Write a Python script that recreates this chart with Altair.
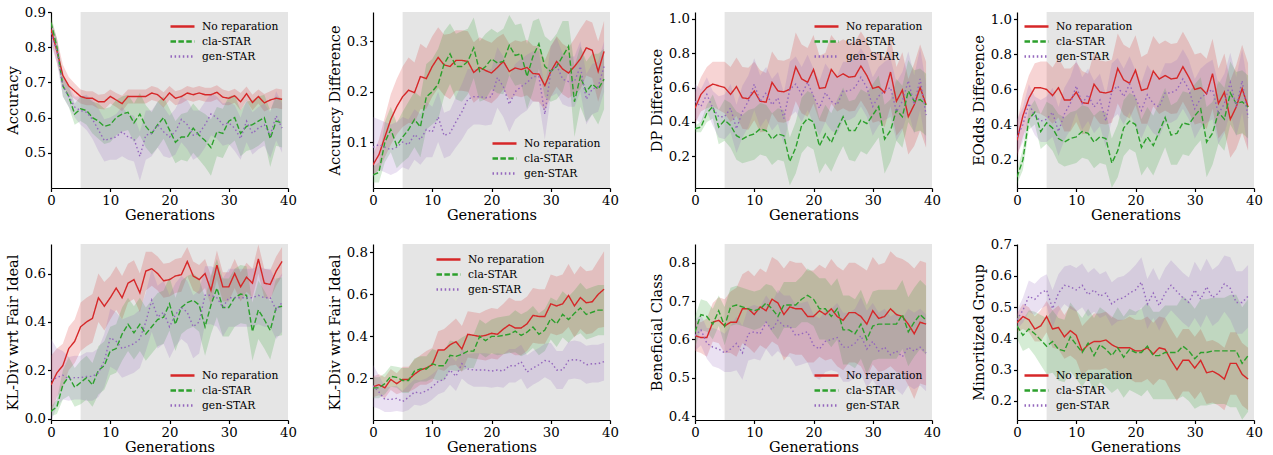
import altair as alt
import pandas as pd

GENS = list(range(40))
METHODS = ["No reparation", "cla-STAR", "gen-STAR"]
COLORS = ["#d62728", "#2ca02c", "#9467bd"]
DASHES = [[1, 0], [5.5, 2.4], [1.5, 2.6]]
X_TICKS = [0, 10, 20, 30, 40]
SHADE = [5, 40]

# ---------------- Accuracy ----------------
acc_red = [0.85,0.79,0.72,0.69,0.675,0.66,0.655,0.655,0.645,0.645,0.66,0.65,0.64,0.66,0.66,0.66,0.66,0.67,0.665,0.65,
           0.67,0.655,0.66,0.67,0.665,0.67,0.665,0.665,0.672,0.658,0.655,0.662,0.645,0.668,0.643,0.66,0.642,0.65,0.655,0.652]
acc_green = [0.87,0.80,0.69,0.66,0.61,0.625,0.62,0.60,0.59,0.575,0.58,0.60,0.61,0.615,0.585,0.61,0.575,0.555,0.58,0.60,
             0.565,0.53,0.545,0.545,0.57,0.55,0.535,0.515,0.56,0.555,0.59,0.60,0.555,0.575,0.58,0.59,0.60,0.54,0.59,0.585]
acc_purple = [0.84,0.79,0.69,0.66,0.63,0.62,0.615,0.595,0.565,0.535,0.54,0.545,0.56,0.545,0.54,0.49,0.55,0.555,0.58,0.56,
              0.545,0.56,0.595,0.58,0.55,0.555,0.58,0.61,0.60,0.58,0.585,0.57,0.54,0.59,0.555,0.57,0.58,0.55,0.605,0.57]
acc_red_w = [0.03,0.035,0.03,0.025,0.022,0.02,0.02,0.02,0.02,0.022,0.02,0.02,0.022,0.02,0.02,0.02,0.02,0.02,0.02,0.022,
             0.02,0.02,0.02,0.02,0.02,0.02,0.02,0.02,0.02,0.022,0.02,0.02,0.025,0.02,0.022,0.02,0.025,0.025,0.028,0.028]
acc_green_w = [0.02,0.025,0.03,0.03,0.03,0.035,0.04,0.045,0.05,0.05,0.05,0.05,0.05,0.05,0.055,0.06,0.06,0.06,0.065,0.06,
               0.06,0.06,0.065,0.07,0.07,0.07,0.075,0.08,0.07,0.07,0.07,0.065,0.065,0.07,0.07,0.07,0.065,0.08,0.07,0.07]
acc_purple_w = [0.03,0.035,0.03,0.03,0.03,0.04,0.05,0.055,0.06,0.06,0.06,0.065,0.07,0.065,0.065,0.07,0.07,0.065,0.065,0.07,
                0.06,0.065,0.065,0.07,0.07,0.065,0.065,0.06,0.06,0.06,0.06,0.065,0.06,0.06,0.06,0.06,0.06,0.065,0.07,0.07]

# ---------------- Accuracy Difference ----------------
ad_red = [0.055,0.075,0.11,0.145,0.17,0.19,0.203,0.198,0.23,0.226,0.25,0.268,0.253,0.25,0.262,0.262,0.26,0.238,0.248,0.242,
          0.237,0.248,0.26,0.24,0.247,0.244,0.248,0.236,0.235,0.212,0.24,0.26,0.245,0.237,0.25,0.265,0.287,0.282,0.24,0.28]
ad_green = [0.035,0.04,0.10,0.125,0.093,0.11,0.125,0.145,0.13,0.19,0.20,0.215,0.255,0.275,0.25,0.25,0.26,0.287,0.24,0.25,
            0.265,0.257,0.26,0.292,0.272,0.275,0.23,0.27,0.295,0.25,0.24,0.25,0.27,0.29,0.18,0.23,0.20,0.215,0.205,0.225]
ad_purple = [0.09,0.095,0.09,0.085,0.09,0.10,0.095,0.115,0.105,0.125,0.12,0.15,0.113,0.118,0.14,0.16,0.185,0.19,0.19,0.188,
             0.19,0.228,0.21,0.175,0.20,0.21,0.218,0.23,0.23,0.155,0.24,0.252,0.225,0.22,0.22,0.25,0.185,0.205,0.21,0.25]
ad_red_w = [0.02,0.03,0.04,0.05,0.055,0.06,0.065,0.06,0.065,0.06,0.06,0.06,0.06,0.065,0.06,0.06,0.06,0.06,0.06,0.06,
            0.06,0.06,0.055,0.055,0.055,0.055,0.055,0.055,0.055,0.05,0.05,0.05,0.05,0.05,0.055,0.06,0.055,0.055,0.06,0.06]
ad_green_w = [0.015,0.02,0.04,0.045,0.045,0.05,0.055,0.055,0.06,0.065,0.065,0.07,0.065,0.06,0.065,0.07,0.065,0.06,0.06,0.065,
              0.06,0.06,0.065,0.06,0.06,0.06,0.065,0.07,0.05,0.06,0.06,0.065,0.07,0.05,0.07,0.06,0.06,0.06,0.07,0.06]
ad_purple_w = [0.06,0.05,0.05,0.05,0.05,0.05,0.05,0.05,0.05,0.055,0.05,0.05,0.045,0.045,0.05,0.055,0.06,0.055,0.055,0.055,
               0.055,0.06,0.06,0.055,0.055,0.055,0.055,0.05,0.05,0.05,0.05,0.055,0.05,0.05,0.05,0.05,0.05,0.05,0.05,0.05]

# ---------------- DP Difference ----------------
dp_red = [0.48,0.56,0.60,0.62,0.61,0.60,0.56,0.605,0.54,0.535,0.58,0.52,0.515,0.63,0.58,0.575,0.59,0.72,0.65,0.63,
          0.705,0.595,0.60,0.705,0.66,0.68,0.66,0.665,0.725,0.67,0.595,0.605,0.57,0.69,0.52,0.585,0.43,0.50,0.60,0.50]
dp_green = [0.36,0.37,0.45,0.49,0.37,0.41,0.38,0.32,0.30,0.32,0.33,0.36,0.35,0.30,0.33,0.32,0.17,0.25,0.38,0.42,
            0.40,0.26,0.33,0.28,0.36,0.43,0.35,0.35,0.41,0.39,0.44,0.49,0.30,0.35,0.47,0.43,0.58,0.52,0.53,0.50]
dp_purple = [0.52,0.49,0.56,0.48,0.43,0.43,0.48,0.36,0.46,0.52,0.62,0.52,0.57,0.50,0.54,0.42,0.59,0.62,0.56,0.63,
             0.55,0.48,0.57,0.52,0.50,0.58,0.58,0.60,0.66,0.60,0.49,0.55,0.58,0.60,0.46,0.52,0.64,0.50,0.65,0.44]
dp_red_w = [0.09,0.10,0.12,0.13,0.14,0.15,0.16,0.17,0.18,0.18,0.17,0.18,0.17,0.18,0.18,0.18,0.18,0.20,0.20,0.20,
            0.20,0.19,0.20,0.20,0.20,0.20,0.20,0.20,0.20,0.20,0.20,0.20,0.20,0.20,0.20,0.22,0.22,0.24,0.25,0.25]
dp_green_w = [0.02,0.03,0.05,0.07,0.10,0.12,0.13,0.14,0.14,0.15,0.15,0.15,0.15,0.15,0.15,0.15,0.14,0.15,0.16,0.16,
              0.16,0.16,0.17,0.17,0.17,0.17,0.17,0.18,0.18,0.18,0.18,0.18,0.20,0.18,0.18,0.18,0.18,0.18,0.18,0.18]
dp_purple_w = [0.10,0.10,0.10,0.10,0.12,0.13,0.14,0.14,0.15,0.15,0.15,0.15,0.15,0.15,0.15,0.15,0.16,0.16,0.16,0.16,
               0.16,0.16,0.17,0.17,0.17,0.17,0.17,0.17,0.17,0.17,0.17,0.17,0.17,0.17,0.17,0.17,0.17,0.17,0.18,0.18]

# ---------------- EOdds Difference ----------------
eo_red = [0.31,0.45,0.55,0.61,0.61,0.60,0.565,0.61,0.54,0.54,0.585,0.525,0.52,0.63,0.585,0.58,0.59,0.72,0.655,0.635,
          0.71,0.595,0.605,0.705,0.66,0.68,0.66,0.665,0.73,0.67,0.60,0.61,0.575,0.69,0.52,0.585,0.43,0.50,0.605,0.50]
eo_green = [0.10,0.20,0.43,0.47,0.36,0.41,0.38,0.32,0.30,0.32,0.33,0.36,0.35,0.30,0.33,0.32,0.18,0.25,0.38,0.42,
            0.40,0.27,0.33,0.28,0.36,0.44,0.34,0.35,0.41,0.40,0.45,0.49,0.30,0.35,0.47,0.43,0.58,0.52,0.53,0.50]
eo_purple = [0.33,0.40,0.52,0.45,0.42,0.43,0.47,0.36,0.46,0.52,0.62,0.52,0.57,0.50,0.54,0.42,0.59,0.62,0.56,0.63,
             0.55,0.48,0.57,0.52,0.50,0.58,0.58,0.60,0.66,0.60,0.49,0.55,0.58,0.60,0.46,0.52,0.64,0.50,0.65,0.44]
eo_red_w = [0.10,0.12,0.13,0.14,0.15,0.16,0.16,0.17,0.18,0.18,0.17,0.18,0.17,0.18,0.18,0.18,0.18,0.20,0.20,0.20,
            0.20,0.19,0.20,0.20,0.20,0.20,0.20,0.20,0.20,0.20,0.20,0.20,0.20,0.20,0.20,0.22,0.22,0.24,0.25,0.25]
eo_green_w = [0.04,0.06,0.06,0.07,0.10,0.12,0.13,0.14,0.14,0.15,0.15,0.15,0.15,0.15,0.15,0.15,0.14,0.15,0.16,0.16,
              0.16,0.16,0.17,0.17,0.17,0.17,0.17,0.18,0.18,0.18,0.18,0.18,0.20,0.18,0.18,0.18,0.18,0.18,0.18,0.18]
eo_purple_w = [0.10,0.10,0.11,0.11,0.12,0.13,0.14,0.14,0.15,0.15,0.15,0.15,0.15,0.15,0.15,0.15,0.16,0.16,0.16,0.16,
               0.16,0.16,0.17,0.17,0.17,0.17,0.17,0.17,0.17,0.17,0.17,0.17,0.17,0.17,0.17,0.17,0.17,0.17,0.18,0.18]

# ---------------- KL-Div (1) ----------------
kl1_red = [0.14,0.19,0.22,0.29,0.32,0.38,0.40,0.415,0.50,0.465,0.50,0.54,0.50,0.56,0.575,0.52,0.61,0.62,0.60,0.57,
           0.575,0.59,0.595,0.65,0.59,0.575,0.60,0.53,0.635,0.545,0.545,0.60,0.545,0.585,0.56,0.66,0.56,0.555,0.61,0.65]
kl1_green = [0.03,0.05,0.14,0.175,0.13,0.15,0.17,0.14,0.20,0.22,0.28,0.29,0.35,0.39,0.355,0.39,0.35,0.38,0.41,0.42,
             0.475,0.39,0.46,0.48,0.49,0.47,0.38,0.47,0.54,0.46,0.46,0.50,0.515,0.51,0.36,0.45,0.41,0.365,0.46,0.465]
kl1_purple = [0.16,0.17,0.18,0.165,0.17,0.17,0.175,0.175,0.19,0.24,0.335,0.32,0.29,0.30,0.31,0.33,0.40,0.49,0.42,0.44,
              0.38,0.43,0.46,0.44,0.38,0.40,0.51,0.51,0.50,0.46,0.50,0.50,0.50,0.50,0.50,0.51,0.50,0.50,0.45,0.48]
kl1_red_w = [0.12,0.10,0.09,0.09,0.09,0.10,0.10,0.10,0.10,0.10,0.09,0.09,0.09,0.08,0.08,0.08,0.08,0.07,0.07,0.07,
             0.07,0.07,0.07,0.06,0.06,0.06,0.06,0.06,0.06,0.06,0.06,0.06,0.06,0.06,0.06,0.06,0.06,0.06,0.06,0.06]
kl1_green_w = [0.02,0.03,0.06,0.08,0.08,0.09,0.09,0.09,0.10,0.10,0.10,0.10,0.11,0.11,0.11,0.11,0.11,0.11,0.11,0.11,
               0.11,0.11,0.11,0.11,0.11,0.11,0.12,0.12,0.12,0.12,0.12,0.12,0.12,0.12,0.12,0.12,0.12,0.12,0.12,0.12]
kl1_purple_w = [0.17,0.12,0.10,0.09,0.09,0.09,0.10,0.10,0.10,0.11,0.12,0.12,0.12,0.12,0.12,0.12,0.12,0.13,0.13,0.13,
                0.13,0.13,0.13,0.13,0.13,0.13,0.12,0.12,0.12,0.12,0.12,0.12,0.12,0.12,0.12,0.12,0.12,0.12,0.12,0.12]

# ---------------- KL-Div (2) ----------------
kl2_red = [0.16,0.17,0.155,0.195,0.175,0.195,0.195,0.22,0.24,0.25,0.265,0.335,0.335,0.36,0.375,0.34,0.41,0.405,0.40,0.405,
           0.415,0.41,0.435,0.455,0.44,0.44,0.46,0.50,0.495,0.495,0.555,0.545,0.555,0.595,0.545,0.585,0.56,0.565,0.60,0.625]
kl2_green = [0.155,0.155,0.175,0.21,0.205,0.19,0.19,0.235,0.245,0.245,0.27,0.26,0.26,0.31,0.305,0.315,0.33,0.33,0.40,0.38,
             0.40,0.40,0.405,0.41,0.425,0.405,0.42,0.445,0.41,0.43,0.485,0.46,0.505,0.48,0.51,0.535,0.505,0.515,0.525,0.525]
kl2_purple = [0.165,0.135,0.10,0.10,0.105,0.09,0.11,0.135,0.13,0.14,0.16,0.185,0.195,0.24,0.21,0.27,0.245,0.24,0.24,0.24,
              0.235,0.24,0.235,0.26,0.26,0.28,0.23,0.25,0.265,0.285,0.28,0.24,0.24,0.285,0.29,0.285,0.265,0.27,0.27,0.28]
kl2_red_w = [0.05,0.05,0.05,0.05,0.05,0.06,0.06,0.07,0.07,0.08,0.08,0.09,0.10,0.10,0.11,0.11,0.11,0.11,0.11,0.12,
             0.12,0.12,0.12,0.13,0.13,0.13,0.13,0.13,0.13,0.13,0.14,0.14,0.14,0.15,0.15,0.15,0.15,0.15,0.16,0.18]
kl2_green_w = [0.05,0.05,0.05,0.05,0.05,0.06,0.06,0.06,0.06,0.06,0.07,0.07,0.07,0.07,0.07,0.08,0.08,0.08,0.08,0.08,
               0.08,0.09,0.09,0.09,0.10,0.10,0.10,0.10,0.10,0.10,0.10,0.11,0.11,0.11,0.11,0.12,0.12,0.12,0.12,0.12]
kl2_purple_w = [0.10,0.08,0.06,0.06,0.06,0.05,0.06,0.06,0.06,0.06,0.06,0.06,0.06,0.07,0.07,0.07,0.07,0.08,0.08,0.08,
                0.08,0.08,0.08,0.08,0.08,0.08,0.08,0.08,0.08,0.08,0.09,0.09,0.09,0.09,0.09,0.09,0.09,0.09,0.09,0.09]

# ---------------- Beneficial Class ----------------
bc_red = [0.61,0.605,0.605,0.645,0.65,0.635,0.645,0.645,0.68,0.68,0.665,0.685,0.675,0.705,0.695,0.665,0.685,0.68,0.68,0.66,
          0.66,0.675,0.665,0.68,0.66,0.65,0.67,0.67,0.66,0.64,0.675,0.655,0.66,0.68,0.665,0.66,0.64,0.615,0.645,0.64]
bc_green = [0.62,0.665,0.66,0.64,0.675,0.635,0.685,0.69,0.685,0.68,0.675,0.68,0.695,0.68,0.66,0.69,0.69,0.69,0.705,0.715,
            0.705,0.68,0.68,0.66,0.68,0.625,0.625,0.615,0.64,0.60,0.635,0.64,0.64,0.64,0.64,0.665,0.62,0.645,0.665,0.65]
bc_purple = [0.61,0.625,0.59,0.58,0.575,0.565,0.575,0.59,0.565,0.615,0.62,0.615,0.645,0.625,0.65,0.635,0.635,0.61,0.615,0.62,
             0.585,0.575,0.595,0.60,0.605,0.58,0.58,0.59,0.61,0.575,0.595,0.57,0.58,0.56,0.57,0.555,0.58,0.57,0.58,0.565]
bc_red_w = [0.04,0.04,0.05,0.05,0.06,0.07,0.08,0.09,0.09,0.10,0.10,0.10,0.10,0.11,0.11,0.12,0.12,0.12,0.12,0.12,
            0.12,0.12,0.12,0.13,0.13,0.13,0.13,0.13,0.13,0.14,0.14,0.14,0.14,0.15,0.15,0.15,0.16,0.17,0.16,0.16]
bc_green_w = [0.04,0.04,0.04,0.04,0.04,0.05,0.05,0.05,0.05,0.05,0.05,0.05,0.05,0.06,0.06,0.06,0.06,0.06,0.06,0.07,
              0.07,0.08,0.08,0.08,0.08,0.09,0.09,0.09,0.09,0.09,0.09,0.09,0.09,0.09,0.09,0.09,0.09,0.09,0.09,0.09]
bc_purple_w = [0.04,0.04,0.04,0.05,0.05,0.05,0.06,0.07,0.07,0.07,0.07,0.07,0.07,0.07,0.08,0.08,0.08,0.08,0.08,0.08,
               0.08,0.08,0.08,0.08,0.09,0.09,0.09,0.09,0.10,0.10,0.10,0.10,0.10,0.10,0.10,0.10,0.10,0.10,0.10,0.10]

# ---------------- Minoritized Group ----------------
mg_red = [0.45,0.47,0.46,0.43,0.44,0.47,0.43,0.435,0.405,0.425,0.41,0.36,0.38,0.39,0.39,0.395,0.38,0.37,0.37,0.37,
          0.36,0.36,0.37,0.35,0.37,0.365,0.33,0.30,0.33,0.33,0.305,0.33,0.29,0.295,0.285,0.27,0.32,0.32,0.285,0.27]
mg_green = [0.44,0.41,0.43,0.415,0.395,0.375,0.39,0.365,0.36,0.405,0.38,0.355,0.385,0.345,0.38,0.365,0.345,0.37,0.34,0.365,
            0.355,0.355,0.375,0.345,0.345,0.355,0.355,0.355,0.375,0.36,0.335,0.355,0.355,0.36,0.36,0.36,0.36,0.36,0.32,0.345]
mg_purple = [0.46,0.49,0.535,0.525,0.545,0.555,0.495,0.545,0.57,0.565,0.555,0.57,0.54,0.555,0.535,0.545,0.51,0.525,0.53,0.545,
             0.555,0.58,0.51,0.545,0.505,0.545,0.57,0.55,0.53,0.515,0.555,0.525,0.565,0.53,0.545,0.575,0.56,0.515,0.515,0.535]
mg_red_w = [0.03,0.04,0.04,0.04,0.05,0.05,0.06,0.07,0.07,0.08,0.08,0.08,0.08,0.09,0.09,0.09,0.09,0.09,0.09,0.10,
            0.10,0.10,0.10,0.10,0.10,0.10,0.10,0.10,0.10,0.10,0.10,0.10,0.10,0.10,0.10,0.10,0.10,0.10,0.10,0.10]
mg_green_w = [0.04,0.05,0.06,0.07,0.08,0.09,0.10,0.10,0.10,0.11,0.11,0.11,0.11,0.12,0.12,0.12,0.12,0.13,0.13,0.13,
              0.13,0.14,0.14,0.14,0.14,0.15,0.15,0.15,0.16,0.16,0.16,0.17,0.17,0.17,0.17,0.17,0.18,0.18,0.18,0.18]
mg_purple_w = [0.03,0.04,0.05,0.05,0.05,0.05,0.06,0.06,0.06,0.07,0.07,0.07,0.07,0.07,0.07,0.07,0.07,0.07,0.07,0.07,
               0.08,0.08,0.08,0.08,0.08,0.08,0.08,0.08,0.08,0.08,0.09,0.09,0.09,0.09,0.09,0.09,0.10,0.10,0.10,0.10]

# legend anchor = top-left of the legend block, relative to each plot area
PANELS = [
    dict(title="Accuracy", means=[acc_red, acc_green, acc_purple], widths=[acc_red_w, acc_green_w, acc_purple_w],
         domain=[0.40, 0.90], ticks=[0.5, 0.6, 0.7, 0.8, 0.9], leg=(124, 7)),
    dict(title="Accuracy Difference", means=[ad_red, ad_green, ad_purple], widths=[ad_red_w, ad_green_w, ad_purple_w],
         domain=[0.009, 0.358], ticks=[0.1, 0.2, 0.3], leg=(124, 124)),
    dict(title="DP Difference", means=[dp_red, dp_green, dp_purple], widths=[dp_red_w, dp_green_w, dp_purple_w],
         domain=[0.016, 1.039], ticks=[0.2, 0.4, 0.6, 0.8, 1.0], leg=(124, 7)),
    dict(title="EOdds Difference", means=[eo_red, eo_green, eo_purple], widths=[eo_red_w, eo_green_w, eo_purple_w],
         domain=[0.038, 1.042], ticks=[0.2, 0.4, 0.6, 0.8, 1.0], leg=(12, 7)),
    dict(title="KL-Div wrt Fair Ideal", means=[kl1_red, kl1_green, kl1_purple], widths=[kl1_red_w, kl1_green_w, kl1_purple_w],
         domain=[-0.005, 0.722], ticks=[0.0, 0.2, 0.4, 0.6], leg=(124, 124)),
    dict(title="KL-Div wrt Fair Ideal", means=[kl2_red, kl2_green, kl2_purple], widths=[kl2_red_w, kl2_green_w, kl2_purple_w],
         domain=[0.002, 0.84], ticks=[0.2, 0.4, 0.6, 0.8], leg=(68, 8)),
    dict(title="Beneficial Class", means=[bc_red, bc_green, bc_purple], widths=[bc_red_w, bc_green_w, bc_purple_w],
         domain=[0.39, 0.849], ticks=[0.4, 0.5, 0.6, 0.7, 0.8], leg=(124, 124)),
    dict(title="Minoritized Group", means=[mg_red, mg_green, mg_purple], widths=[mg_red_w, mg_green_w, mg_purple_w],
         domain=[0.139, 0.702], ticks=[0.2, 0.3, 0.4, 0.5, 0.6, 0.7], leg=(12, 124)),
]

W, H = 237, 176
FONT = "DejaVu Serif"


def make_panel(p):
    rows = []
    for m, mean, wid in zip(METHODS, p["means"], p["widths"]):
        for g, v, hw in zip(GENS, mean, wid):
            rows.append({"gen": g, "method": m, "band": m, "value": v, "lo": v - hw, "hi": v + hw})
    df = pd.DataFrame(rows)

    xscale = alt.Scale(domain=[0, 40], nice=False, zero=False)
    yscale = alt.Scale(domain=p["domain"], nice=False, zero=False)
    xaxis = alt.Axis(title="Generations", values=X_TICKS, format="d")
    yaxis = alt.Axis(title=p["title"], values=p["ticks"], format=".1f")

    shade = alt.Chart(pd.DataFrame({"start": [SHADE[0]], "end": [SHADE[1]]})).mark_rect(
        color="#e5e5e5"
    ).encode(
        x=alt.X("start:Q", scale=xscale, axis=xaxis),
        x2="end:Q",
        y=alt.value(0),
        y2=alt.value(H),
    )

    # band colours: data-driven domain (alphabetical order matches METHODS) so that
    # its hidden legend is not merged with the visible line legend
    bands = alt.Chart(df).mark_area(opacity=0.2, clip=True).encode(
        x=alt.X("gen:Q", scale=xscale, axis=xaxis),
        y=alt.Y("lo:Q", scale=yscale, axis=yaxis),
        y2="hi:Q",
        fill=alt.Fill("band:N", scale=alt.Scale(range=COLORS), legend=None),
        detail="band:N",
    )

    leg = alt.Legend(
        title=None, orient="none", legendX=p["leg"][0], legendY=p["leg"][1],
        symbolType="M-2,0H2", symbolSize=144, symbolStrokeWidth=2.4,
        labelFont=FONT, labelFontSize=10.7, labelColor="black", labelOffset=12,
        padding=0, rowPadding=2,
    )

    lines = alt.Chart(df).mark_line(strokeWidth=1.4, clip=True).encode(
        x=alt.X("gen:Q", scale=xscale, axis=xaxis),
        y=alt.Y("value:Q", scale=yscale, axis=yaxis),
        color=alt.Color("method:N", scale=alt.Scale(domain=METHODS, range=COLORS), legend=leg),
        strokeDash=alt.StrokeDash("method:N", scale=alt.Scale(domain=METHODS, range=DASHES), legend=leg),
        order=alt.Order("gen:Q"),
    )

    return alt.layer(shade, bands, lines).properties(width=W, height=H)


charts = [make_panel(p) for p in PANELS]

chart = alt.concat(*charts, columns=4, spacing={"row": 56, "column": 85}, bounds="flush").resolve_scale(
    x="independent", y="independent", color="independent", strokeDash="independent", fill="independent"
).resolve_legend(
    color="independent", strokeDash="independent"
).properties(
    padding={"left": 5, "top": 5, "right": 5, "bottom": 5},
    background="white",
).configure_view(
    stroke=None
).configure_axis(
    labelFont=FONT, labelFontSize=13.3, labelColor="black",
    titleFont=FONT, titleFontSize=14.6, titleFontWeight="normal", titleColor="black",
    domainColor="black", domainWidth=1.2, tickColor="black", tickWidth=1.2, tickSize=3.5,
    labelPadding=2, grid=False, labelFlush=False, labelOverlap=False,
).configure_axisY(
    titlePadding=4
).configure_axisX(
    titlePadding=1
)

chart.save("out.html", embed_options={"renderer": "svg", "actions": False})
